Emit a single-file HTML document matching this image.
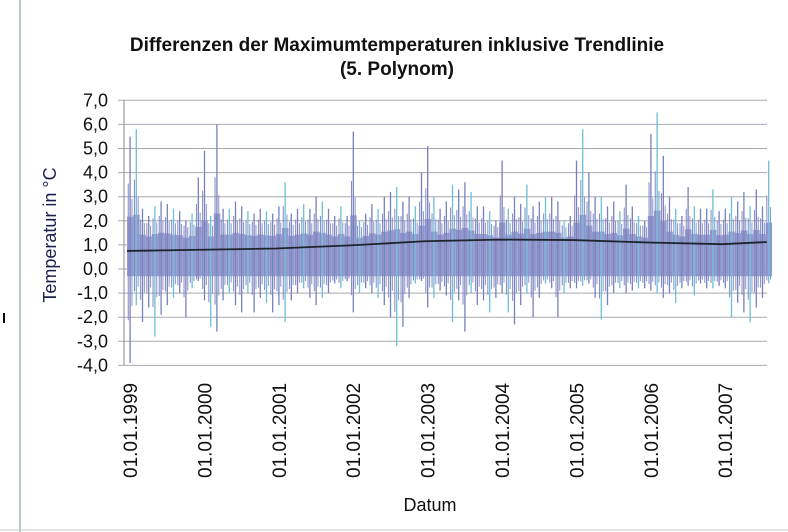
<!DOCTYPE html>
<html><head><meta charset="utf-8"><style>
body{margin:0;background:#fff;}
svg{display:block;font-family:"Liberation Sans",Arial,sans-serif;}
</style></head><body>
<svg id="chart" width="788" height="532" viewBox="0 0 788 532" xmlns="http://www.w3.org/2000/svg">
<rect x="0" y="0" width="788" height="532" fill="#fff"/>
<line x1="20" y1="0" x2="20" y2="532" stroke="#9cb8bc" stroke-width="1.5"/>
<line x1="0" y1="530" x2="788" y2="530" stroke="#c8c8c8" stroke-width="1"/>
<rect x="3" y="313" width="2" height="10" fill="#000"/>
<text x="397" y="51" text-anchor="middle" font-size="19" font-weight="bold" fill="#111">Differenzen der Maximumtemperaturen inklusive Trendlinie</text>
<text x="397" y="75" text-anchor="middle" font-size="19" font-weight="bold" fill="#111">(5. Polynom)</text>
<text transform="translate(56,235) rotate(-90)" text-anchor="middle" font-size="18" fill="#1a2050">Temperatur in °C</text>
<text x="430" y="511" text-anchor="middle" font-size="18" fill="#111">Datum</text>
<g id="grid"></g><g id="yticks"></g><g id="xticks"></g><g id="bars"></g><g id="trend"></g>
</svg>
<script>
const yTicks=[7,6,5,4,3,2,1,0,-1,-2,-3,-4];
const xTickYears=[1999,2000,2001,2002,2003,2004,2005,2006,2007];
const monthlyHigh=[
5.5,5.8,2.5,2.2,2.6,2.8,2.7,2.5,2.4,2.0,2.3,3.8,
4.9,2.2,6.0,2.5,2.5,2.8,2.6,2.4,2.3,2.5,2.4,2.3,
2.6,3.6,2.3,2.5,2.7,2.5,3.0,2.8,2.5,2.2,2.6,2.2,
5.7,2.0,2.3,2.7,2.5,3.0,3.2,3.4,2.8,3.0,2.6,4.0,
5.1,3.0,2.5,2.8,3.5,3.3,3.6,3.2,2.6,2.6,2.4,2.0,
4.5,2.5,3.0,2.7,3.5,2.6,2.8,3.0,3.0,2.8,2.0,2.2,
4.5,5.8,4.0,3.0,3.0,2.6,2.8,2.4,3.5,2.6,2.2,2.0,
5.6,6.5,4.7,3.0,2.5,2.2,3.4,2.6,2.5,2.5,3.3,2.4,
2.5,3.0,2.8,3.2,2.6,3.3,2.6,4.5];
const monthlyLow=[
-3.9,-1.5,-2.2,-1.6,-2.8,-1.9,-1.5,-1.2,-1.0,-2.0,-0.8,-0.5,
-1.3,-2.4,-2.6,-1.3,-1.0,-1.5,-1.8,-1.0,-1.8,-1.2,-1.4,-1.8,
-1.5,-2.2,-1.3,-1.0,-0.8,-1.2,-1.5,-1.2,-1.0,-0.6,-0.8,-0.5,
-1.8,-1.0,-0.8,-1.0,-1.2,-1.5,-2.0,-3.2,-2.4,-1.2,-0.6,-0.5,
-1.6,-1.2,-0.9,-1.1,-2.2,-1.3,-2.6,-1.0,-1.5,-1.3,-1.8,-1.2,
-1.0,-1.8,-2.3,-1.5,-1.0,-2.0,-1.2,-0.6,-0.8,-2.0,-1.0,-0.8,
-0.8,-0.7,-0.6,-1.2,-2.1,-1.5,-1.0,-0.8,-1.0,-0.9,-0.8,-0.8,
-0.9,-1.0,-1.2,-1.0,-1.4,-0.8,-0.7,-1.1,-0.6,-0.8,-0.8,-0.7,
-0.8,-2.0,-1.4,-1.8,-2.2,-1.6,-1.2,-0.6];
const trendYears=[1999,2000,2001,2002,2003,2004,2005,2006,2007,2007.6];
const trendValues=[0.75,0.8,0.85,0.98,1.15,1.22,1.2,1.1,1.03,1.12];

const NS="http://www.w3.org/2000/svg";
const X0=124,X1=767,Y0=269,PU=24.1,YEARPX=74.4,XS=127;
const xS=yr=>XS+(yr-1999)*YEARPX;
const yS=v=>Y0-v*PU;
function mk(tag,attrs,parent){const e=document.createElementNS(NS,tag);for(const k in attrs)e.setAttribute(k,attrs[k]);document.getElementById(parent).appendChild(e);return e;}

yTicks.forEach(v=>{
  const l=mk('line',{x1:118,x2:X1,y1:yS(v),y2:yS(v),stroke:'#a8a8b4','stroke-width':1},'grid');
  
  
  const t=mk('text',{x:108,y:yS(v)+6,'text-anchor':'end','font-size':18,fill:'#111'},'yticks');
  t.textContent=v.toFixed(1).replace('.',',');
  
  
});
const ax=mk('line',{x1:X0,x2:X0,y1:yS(7),y2:yS(-4),stroke:'#888','stroke-width':1},'grid');



xTickYears.forEach(yr=>{
  const x=xS(yr)+3;
  const t=mk('text',{transform:`translate(${x+7},478) rotate(-90)`,'font-size':19,fill:'#111'},'xticks');
  t.textContent='01.01.'+yr;
  
  
});

const mw=YEARPX/12;
monthlyHigh.forEach((h,i)=>{
  const lo=monthlyLow[i];
  const x=xS(1999+i/12);
  const top=Math.min(h,1.3+0.25*(h-2));
  const core=mk('rect',{x:x,y:yS(top),width:mw+0.3,height:yS(-0.3)-yS(top),fill:'#9aa0d2'},'bars');
  
  
  const s=mk('line',{x1:x+mw*0.5,x2:x+mw*0.5,y1:yS(h),y2:yS(lo),stroke:i%3==1?'#6cbfd6':'#7880bd','stroke-width':1.3},'bars');
  
  
  const mid=mk('line',{x1:x+mw*0.2,x2:x+mw*0.2,y1:yS((h+1.6)/2),y2:yS((lo-0.35)/2),stroke:'#8088c4','stroke-width':1},'bars');
  
  
  const mid2=mk('line',{x1:x+mw*0.8,x2:x+mw*0.8,y1:yS((h+3.2)/3),y2:yS((lo-0.7)/3),stroke:'#8a92c8','stroke-width':1},'bars');
  
  
});

const pts=trendYears.map((y,i)=>xS(y)+','+yS(trendValues[i])).join(' ');
const tl=mk('polyline',{points:pts,fill:'none',stroke:'#1e2430','stroke-width':1.8},'trend');


</script>
</body></html>
